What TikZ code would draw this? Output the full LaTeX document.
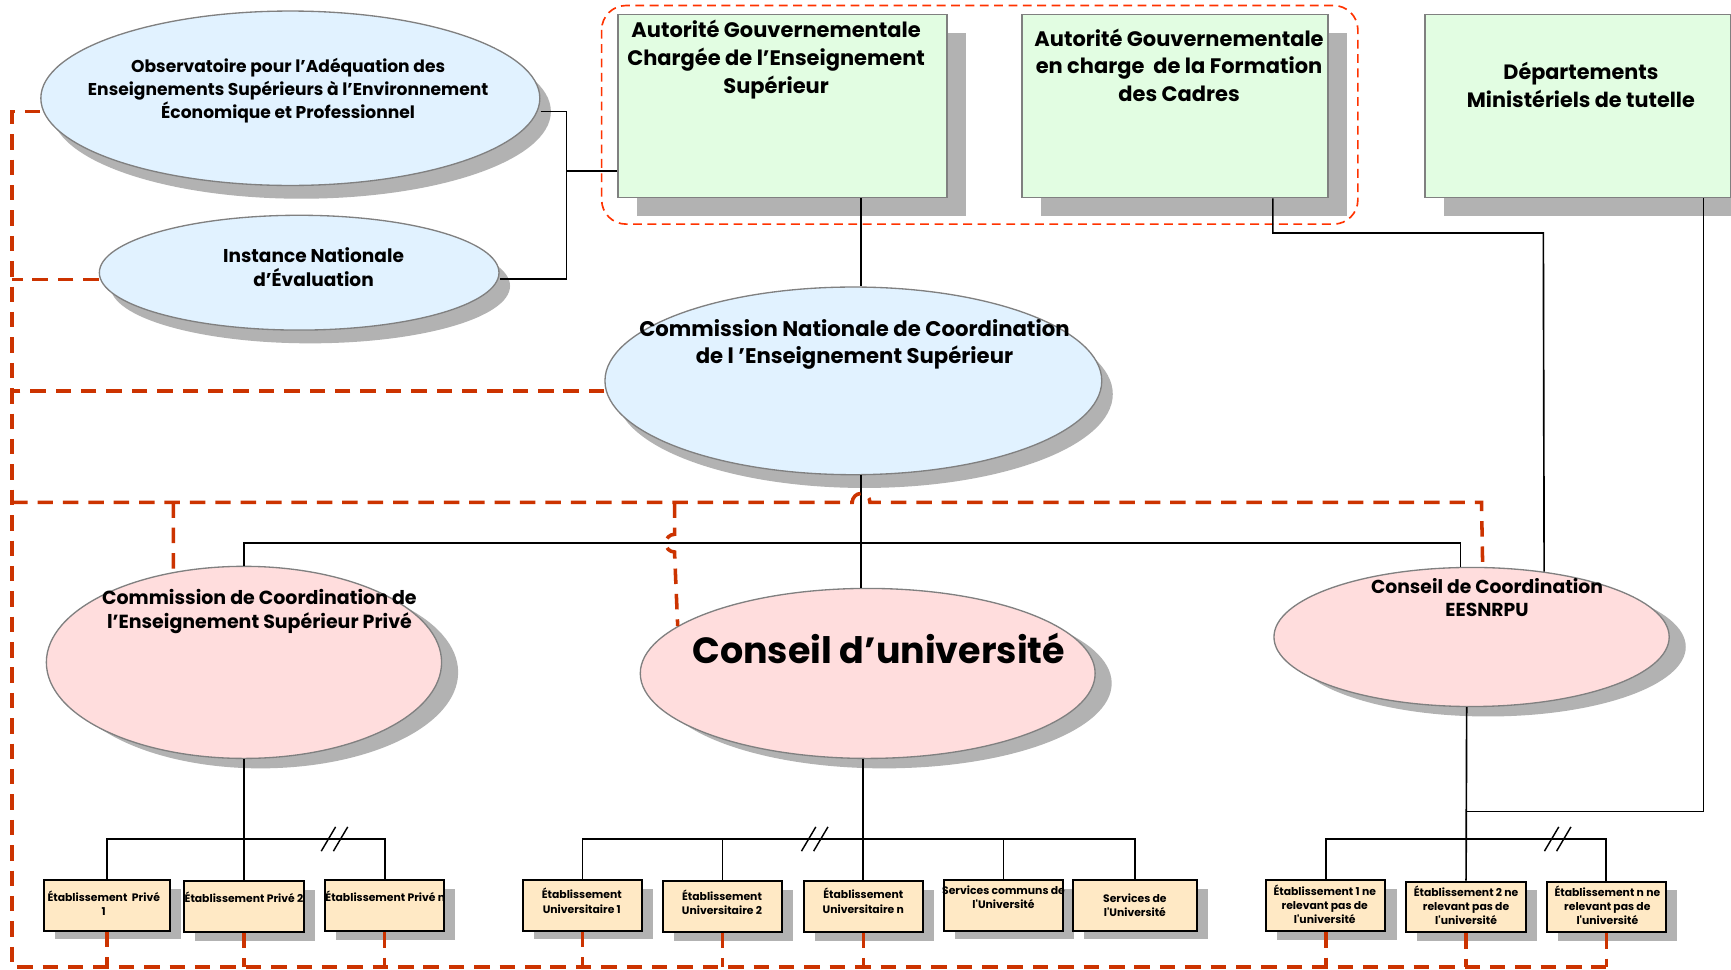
\documentclass[tikz,border=0pt]{standalone}
\usepackage{fontspec}
\setmainfont{Poppins}
\usetikzlibrary{shapes.geometric,shadows}
\definecolor{shd}{RGB}{178,178,178}
\definecolor{bluef}{RGB}{225,242,255}
\definecolor{greenf}{RGB}{226,253,226}
\definecolor{pinkf}{RGB}{255,221,221}
\definecolor{tanf}{RGB}{255,233,197}
\definecolor{redd}{RGB}{204,51,0}
\definecolor{redl}{RGB}{255,51,0}
\definecolor{edge}{RGB}{128,128,128}
\newcommand{\fsz}[2]{\fontsize{#1}{#2}\selectfont}
\begin{document}
\begin{tikzpicture}[x=1pt,y=-1pt,
  conn/.style={draw=black, line width=1.5pt},
  reddash/.style={draw=redd, line width=3.2pt, dash pattern=on 14pt off 9pt},
  groupbox/.style={draw=redl, line width=1.5pt, dash pattern=on 8pt off 5pt, rounded corners=22pt},
  ell/.style={ellipse, draw=edge, line width=1.2pt, inner sep=0pt},
  blueell/.style={ell, fill=bluef, general shadow={fill=shd, shadow xshift=10pt, shadow yshift=-12pt}},
  pinkell/.style={ell, fill=pinkf, general shadow={fill=shd, shadow xshift=15pt, shadow yshift=-9pt}},
  bigbox/.style={rectangle, draw=edge, line width=1.5pt, fill=greenf, inner sep=0pt,
     minimum height=166pt, general shadow={fill=shd, shadow xshift=17pt, shadow yshift=-17pt}},
  smallbox/.style={rectangle, draw=black, line width=1.8pt, fill=tanf, inner sep=0pt,
     minimum width=108pt, minimum height=46pt,
     general shadow={fill=shd, shadow xshift=10pt, shadow yshift=-8pt}},
  txt/.style={align=center, inner sep=0pt, font=\bfseries},
  stxt/.style={align=center, inner sep=0pt, font=\bfseries\fsz{9.8pt}{13pt}},
  brk/.style={draw=black, line width=1.3pt}
]
\fill[white] (0,0) rectangle (1568,878);
\path[use as bounding box] (0,0) rectangle (1568,878);

% ---- top boxes
\node[bigbox, minimum width=298pt] (ga) at (709,96) {};
\node[bigbox, minimum width=277pt] (gb) at (1064.5,96) {};
\node[bigbox, minimum width=277pt] (dep) at (1429.5,96) {};
\node[txt, font=\bfseries\fsz{19pt}{25pt}] (ga-t) at (703,54) {Autorité Gouvernementale\\Chargée de l’Enseignement\\Supérieur};
\node[txt, font=\bfseries\fsz{19pt}{25pt}] (gb-t) at (1068,59) {Autorité Gouvernementale\\en charge\ \ de la Formation\\des Cadres};
\node[txt, font=\bfseries\fsz{18.8pt}{25pt}] (dep-t) at (1432,77) {Départements\\Ministériels de tutelle};
\draw[groupbox] (545,5) rectangle (1230,203);

% ---- blue ellipses
\node[blueell, minimum width=452pt, minimum height=158pt] (obs) at (263,89) {};
\node[blueell, minimum width=362pt, minimum height=104pt] (inst) at (271,247) {};
\node[blueell, minimum width=450pt, minimum height=170pt] (cnc) at (773,345) {};
\node[txt, font=\bfseries\fsz{15.5pt}{20.5pt}] (obs-t) at (261,82) {Observatoire pour l’Adéquation des\\Enseignements Supérieurs à l’Environnement\\Économique et Professionnel};
\node[txt, font=\bfseries\fsz{16.8pt}{22pt}] (inst-t) at (284,242) {Instance Nationale\\d’Évaluation};
\node[txt, font=\bfseries\fsz{19.2pt}{25pt}] (cnc-t) at (774,312) {Commission Nationale de Coordination\\de l ’Enseignement Supérieur};

% ---- pink ellipses
\node[pinkell, minimum width=358pt, minimum height=174pt] (ccp) at (221,600) {};
\node[pinkell, minimum width=412pt, minimum height=154pt] (cu) at (786,610) {};
\node[pinkell, minimum width=358pt, minimum height=126pt] (cce) at (1333,577) {};
\node[txt, font=\bfseries\fsz{17.2pt}{22pt}] (ccp-t) at (235,554) {Commission de Coordination de\\l’Enseignement Supérieur Privé};
\node[txt, font=\bfseries\fsz{33pt}{38pt}] (cu-t) at (796,587) {Conseil d’université};
\node[txt, font=\bfseries\fsz{17pt}{21pt}] (cce-t) at (1347,541) {Conseil de Coordination\\EESNRPU};

% ---- small boxes
\node[smallbox, minimum width=114pt] (p1) at (97,820) {};
\node[smallbox] (p2) at (221,821) {};
\node[smallbox] (pn) at (348.5,820.5) {};
\node[smallbox] (u1) at (527.5,820) {};
\node[smallbox] (u2) at (654.5,821) {};
\node[smallbox] (un) at (782,821) {};
\node[smallbox] (sc) at (909,820) {};
\node[smallbox, minimum width=112pt] (sd) at (1028,820) {};
\node[smallbox] (e1) at (1201,820.5) {};
\node[smallbox] (e2) at (1328,821.5) {};
\node[smallbox] (en) at (1455,821.5) {};
\node[stxt] (p1-t) at (94,818) {Établissement\ \ Privé\\1};
\node[stxt] (p2-t) at (221,813) {Établissement Privé 2};
\node[stxt] (pn-t) at (349,812) {Établissement Privé n};
\node[stxt] (u1-t) at (527,816) {Établissement\\Universitaire 1};
\node[stxt] (u2-t) at (654,817) {Établissement\\Universitaire 2};
\node[stxt] (un-t) at (782,816) {Établissement\\Universitaire n};
\node[stxt] (sc-t) at (909,813) {Services communs de\\l\textquotesingle Université};
\node[stxt] (sd-t) at (1028,820) {Services de\\l\textquotesingle Université};
\node[stxt] (e1-t) at (1200,819) {Établissement 1 ne\\relevant pas de\\l\textquotesingle université};
\node[stxt] (e2-t) at (1328,820) {Établissement 2 ne\\relevant pas de\\l\textquotesingle université};
\node[stxt] (en-t) at (1456,820) {Établissement n ne\\relevant pas de\\l\textquotesingle université};

% ---- black connectors
\coordinate (jv) at (513,155);
\draw[conn] ([yshift=-12pt]obs.east) -| (jv) |- ([yshift=-6pt]inst.east);
\draw[conn] (jv) -- (ga.west |- jv);
\draw[conn] (ga.south -| 780,0) -- (cnc.north -| 780,0);
\draw[conn] (cnc.south -| 780,0) -- (cu.north -| 780,0);
\coordinate (busT) at (780,492);
\draw[conn] (ccp.north) |- (busT) -| (cce.99);
\draw[conn] (gb.south -| 1153,0) |- (1398,211) -- (cce.42.1);
\coordinate (jd) at (1329,735);
\draw[conn] (dep.south -| 1543,0) |- (jd);

\coordinate (busP) at (221,760);
\coordinate (busU) at (781,760);
\coordinate (busE) at (1329,760);
\draw[conn] (ccp.south) -- (p2.north);
\draw[conn] (p1.north) |- (busP) -| (pn.north);
\draw[conn] (un.north |- cu.south) -- (un.north);
\draw[conn] (u1.north) |- (busU) -| (sd.north);
\draw[conn] (u2.north) -- (u2.north |- busU);
\draw[conn] (sc.north) -- (sc.north |- busU);
\draw[conn] (cce.266.4) -- (e2.north);
\draw[conn] (e1.north) |- (busE) -| (en.north);

% break marks
\foreach \bx in {303,738,1411}{
  \draw[brk] (\bx-12,771) -- (\bx+1,749);
  \draw[brk] (\bx-1,771) -- (\bx+12,749);
}

% ---- red dashed connectors
\draw[reddash] ([yshift=-12pt]obs.west) -| (11,876) -- (en.south |- 0,876);
\draw[reddash] ([yshift=-6pt]inst.west) -- (11,253);
\draw[reddash] ([yshift=-9pt]cnc.west) -- (11,354);
\draw[reddash] (11,455) -- (772,455) arc[start angle=180, end angle=360, radius=8] -- (1342,455) -- (cce.81.9);
\draw[reddash] (157,455) -- (ccp.128.3);
\draw[reddash] (611,455) -- (611,484) arc[start angle=270, end angle=90, radius=8] -- (cu.166.8);
\foreach \b in {p1,p2,pn,u1,u2,un,e1,e2,en}{
  \draw[reddash] (\b.south) -- (\b.south |- 0,876);
}
\end{tikzpicture}
\end{document}
